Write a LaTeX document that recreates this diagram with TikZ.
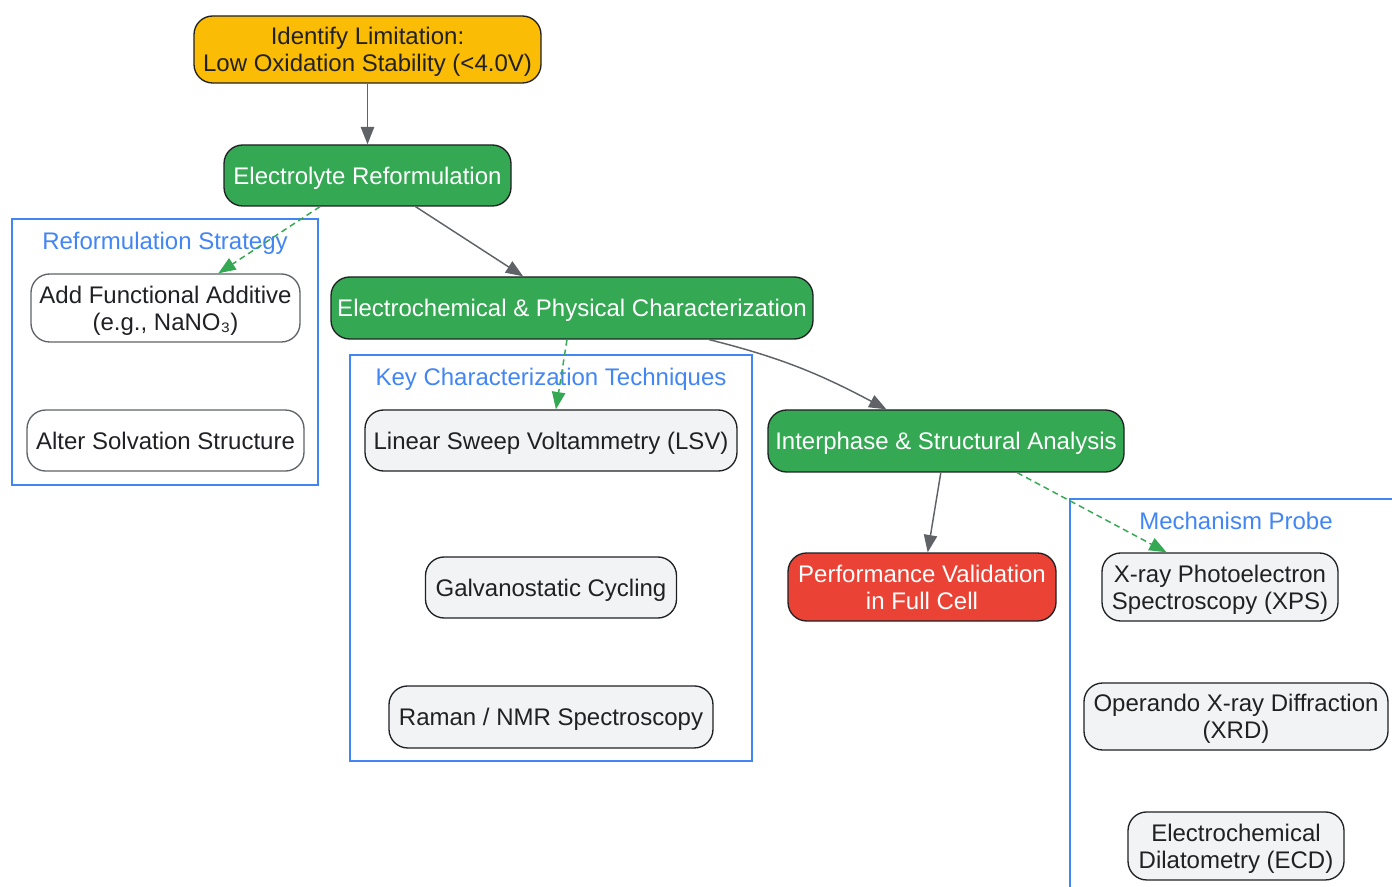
\documentclass[tikz,border=0pt]{standalone}
\usepackage{fontspec}
\setmainfont{Liberation Sans}
\usetikzlibrary{arrows.meta,positioning}

\definecolor{limyellow}{HTML}{FBBC05}
\definecolor{procgreen}{HTML}{34A853}
\definecolor{valred}{HTML}{EA4335}
\definecolor{techgray}{HTML}{F1F3F4}
\definecolor{inkdark}{HTML}{202124}
\definecolor{arrowgray}{HTML}{5F6368}
\definecolor{groupblue}{HTML}{4285F4}

\tikzset{>={Triangle[length=13pt,width=10pt]}}
\tikzset{
  box/.style={draw=inkdark, line width=1pt, rounded corners=14pt, align=center, inner sep=0pt, text depth=0pt, text=inkdark, font=\fontsize{18}{20.2}\selectfont},
  mainbox/.style={box, fill=procgreen, text=white},
  techbox/.style={box, fill=techgray},
  optbox/.style={box, draw=arrowgray, fill=white},
  group/.style={draw=groupblue, line width=0.9pt},
  grouptitle/.style={text=groupblue, text depth=0pt, font=\fontsize{18}{20.2}\selectfont},
  flow/.style={->, draw=arrowgray, line width=1.1pt},
  probe/.style={->, draw=procgreen, line width=1.1pt, dash pattern=on 4.5pt off 3pt}
}

\begin{document}
\begin{tikzpicture}[x=0.75pt, y=-0.75pt]
      \useasboundingbox (0,0) rectangle (1392,887);
      % groups
      \draw[group] (12,219) rectangle (318,485);
      \draw[group] (350,355) rectangle (752,761);
      \draw[group] (1070,499) rectangle (1420,920);
      \node[grouptitle] (tstrategy) at (165,241) {Reformulation Strategy};
      \node[grouptitle] (ttech) at (551,377) {Key Characterization Techniques};
      \node[grouptitle] (tprobe) at (1236,521) {Mechanism Probe};
      % main chain
      \node[box, fill=limyellow, minimum width=260.25pt, minimum height=50.25pt] (limit) at (367.5,49.5) {Identify Limitation:\\Low Oxidation Stability (<4.0V)};
      \node[mainbox, minimum width=215.25pt, minimum height=45.75pt] (reform) at (367.5,175.5) {Electrolyte Reformulation};
      \node[mainbox, minimum width=361.5pt, minimum height=46.5pt] (charact) at (572,308) {Electrochemical \& Physical Characterization};
      \node[mainbox, minimum width=267pt, minimum height=46.5pt] (interph) at (946,441) {Interphase \& Structural Analysis};
      \node[box, fill=valred, text=white, minimum width=201pt, minimum height=51pt] (perf) at (922,587) {Performance Validation\\in Full Cell};
      % strategy options
      \node[optbox, minimum width=201.75pt, minimum height=51pt] (additive) at (165.5,308) {Add Functional Additive\\(e.g., NaNO₃)};
      \node[optbox, below of=additive, node distance=99.4pt, minimum width=207.75pt, minimum height=45.75pt] (solvation) {Alter Solvation Structure};
      % techniques
      \node[techbox, minimum width=279pt, minimum height=45.75pt] (lsv) at (551,440.5) {Linear Sweep Voltammetry (LSV)};
      \node[techbox, below of=lsv, node distance=110.25pt, minimum width=188.25pt, minimum height=45.75pt] (galv) {Galvanostatic Cycling};
      \node[techbox, below of=galv, node distance=97.1pt, minimum width=243pt, minimum height=46.5pt] (raman) {Raman / NMR Spectroscopy};
      % probes
      \node[techbox, minimum width=177pt, minimum height=51pt] (xps) at (1220,587) {X-ray Photoelectron\\Spectroscopy (XPS)};
      \node[techbox, minimum width=228pt, minimum height=50.25pt] (xrd) at (1236,716.5) {Operando X-ray Diffraction\\(XRD)};
      \node[techbox, below of=xrd, node distance=97.1pt, minimum width=162pt, minimum height=51pt] (ecd) {Electrochemical\\Dilatometry (ECD)};
      \draw[flow] (limit) -- (reform);
      \draw[flow] (reform) -- (charact);
      \draw[flow] (charact.-13) to[out=-14, in=152] (interph.152);
      \draw[flow] (interph) -- (perf);
      \draw[probe] (reform) -- (additive);
      \draw[probe] (charact) -- (lsv);
      \draw[probe] (interph.-24) -- (xps.147);
    \end{tikzpicture}
\end{document}
